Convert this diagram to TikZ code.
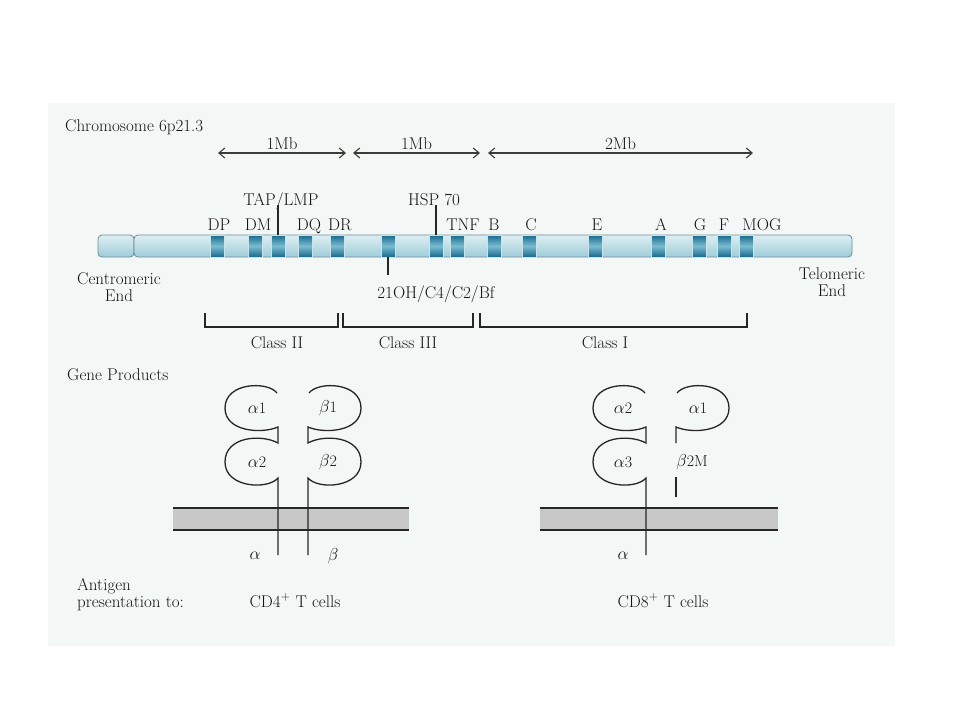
\documentclass[tikz,border=0pt]{standalone}
\usepackage{amsmath}
\usepackage{amssymb}
\usetikzlibrary{positioning,arrows.meta}

\definecolor{panelbg}{HTML}{F3F8F6}
\definecolor{inkgray}{HTML}{141414}
\definecolor{linegray}{HTML}{262626}
\definecolor{arrowgray}{HTML}{3C3C34}
\definecolor{memgray}{HTML}{C8C8C8}
\definecolor{bartop}{HTML}{DDEFF3}
\definecolor{barbot}{HTML}{9FCCD9}
\definecolor{baredge}{HTML}{6F8C95}
\definecolor{banddark}{HTML}{17698B}
\definecolor{bandmid}{HTML}{7BBCD1}

\begin{document}
\begin{tikzpicture}[x=1pt, y=-1pt, >={Straight Barb[length=6pt,width=10pt]},
  lbl/.style={font=\fontsize{17}{20}\selectfont, text=inkgray, inner sep=0pt, anchor=base},
  greek/.style={font=\fontsize{16}{19}\selectfont, text=inkgray, inner sep=0pt},
  band/.style={rectangle, minimum width=14pt, minimum height=22pt, inner sep=0pt, top color=banddark, bottom color=banddark, middle color=bandmid, draw=white!60!bandmid, line width=0.6pt},
  chromo/.style={draw=baredge, top color=bartop, bottom color=barbot, rounded corners=4pt, line width=0.8pt},
  tick/.style={draw=linegray, line width=1.3pt},
  span/.style={<->, draw=arrowgray, line width=1.1pt},
  lobe/.style={draw=linegray, line width=1.3pt}]
\useasboundingbox (0,0) rectangle (960,720);
\fill[panelbg] (48,103) rectangle (895,646);

% chromosome
\node[lbl, anchor=base west] (chr) at (65,131) {Chromosome 6p21.3};
\path[chromo] (98,235) rectangle (134,257);
\path[chromo] (134,235) rectangle (852,257);
\foreach \bx [count=\i] in {217,255,278,305,337,388,436,457,494,529,595,658,699,724,746}
  \node[band] (b\i) at (\bx,246) {};

% distances
\draw[span] (218,153) -- node[lbl, anchor=south, yshift=3pt] (mb1) {1Mb} (346,153);
\draw[span] (353,153) -- node[lbl, anchor=south, yshift=3pt] (mb2) {1Mb} (480,153);
\draw[span] (488,153) -- node[lbl, anchor=south, yshift=3pt] (mb3) {2Mb} (753,153);

% gene names
\node[lbl] (tap) at (281,205) {TAP/LMP};
\node[lbl] (hsp) at (434,205) {HSP 70};
\foreach \gx/\gname in {219/DP, 258/DM, 309/DQ, 340/DR, 463/TNF, 494/B, 531/C, 597/E, 661/A, 700/G, 724/F, 762/MOG}
  \node[lbl] (g-\gname) at (\gx,230) {\gname};
\node[lbl] (ohlbl) at (436,298) {21OH/C4/C2/Bf};
\draw[tick] (b3.north) -- (b3.north |- tap.base);
\draw[tick] (b7.north) -- (b7.north |- hsp.base);
\draw[tick, shorten >=10pt] (b6.south) -- (b6.south |- ohlbl.north);

\node[lbl] (cen) at (119,284) {Centromeric};
\node[lbl, below=5pt of cen, anchor=north] (cenend) {End};
\node[lbl] (tel) at (832,279) {Telomeric};
\node[lbl, below=5pt of tel, anchor=north] (telend) {End};

% classes
\draw[tick] (205,313) -- (205,327) -- (338,327) -- (338,313);
\draw[tick] (343,313) -- (343,327) -- (473,327) -- (473,313);
\draw[tick] (480,313) -- (480,327) -- (747,327) -- (747,313);
\node[lbl] (c2) at (277,348) {Class II};
\node[lbl] (c3) at (408,348) {Class III};
\node[lbl] (c1) at (605,348) {Class I};

\node[lbl, anchor=base west] (prod) at (67,380) {Gene Products};

% membranes
\fill[memgray] (173,508) rectangle (409,530);
\draw[tick] (173,508) -- (409,508) (173,530) -- (409,530);
\fill[memgray] (540,508) rectangle (778,530);
\draw[tick] (540,508) -- (778,508) (540,530) -- (778,530);

% class II molecule
\draw[lobe] (277,393) .. controls (268,381) and (225,382) .. (225,408) .. controls (225,432) and (262,434) .. (278,427)
  -- (278,443) .. controls (262,434) and (225,436) .. (225,462) .. controls (225,488) and (268,490) .. (278,478) -- (278,555);
\draw[lobe] (309,393) .. controls (318,381) and (361,382) .. (361,408) .. controls (361,432) and (324,434) .. (308,427)
  -- (308,443) .. controls (324,434) and (361,436) .. (361,462) .. controls (361,488) and (318,490) .. (308,478) -- (308,555);
\node[greek] (a1) at (257,408) {$\alpha$1};
\node[greek] (a2) at (257,462) {$\alpha$2};
\node[greek] (be1) at (328,408) {$\beta$1};
\node[greek] (be2) at (328,462) {$\beta$2};
\node[greek] (ach) at (255,556) {$\alpha$};
\node[greek] (bch) at (333,556) {$\beta$};

% class I molecule
\draw[lobe] (645,393) .. controls (636,381) and (593,382) .. (593,408) .. controls (593,432) and (630,434) .. (646,427)
  -- (646,443) .. controls (630,434) and (593,436) .. (593,462) .. controls (593,488) and (636,490) .. (646,478) -- (646,555);
\draw[lobe] (677,393) .. controls (686,381) and (729,382) .. (729,408) .. controls (729,432) and (692,434) .. (676,427) -- (676,443);
\draw[lobe] (676,477) -- (676,497);
\node[greek] (ca2) at (623,408) {$\alpha$2};
\node[greek] (ca1) at (698,408) {$\alpha$1};
\node[greek] (ca3) at (623,462) {$\alpha$3};
\node[greek] (b2m) at (692,462) {$\beta$2M};
\node[greek] (cach) at (623,556) {$\alpha$};

% presentation
\node[lbl, anchor=base west] (ant) at (77,590) {Antigen};
\node[lbl, anchor=base west] (pres) at (77,607) {presentation to:};
\node[lbl] (cd4) at (295,607) {CD4$^+$ T cells};
\node[lbl] (cd8) at (663,607) {CD8$^+$ T cells};
\end{tikzpicture}
\end{document}
